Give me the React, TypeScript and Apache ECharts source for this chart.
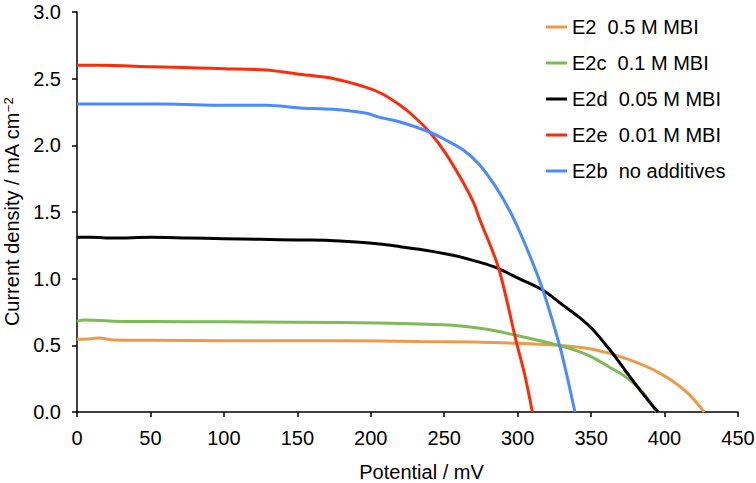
import React, { useEffect, useRef } from "react";
import * as echarts from "echarts";

const xTicks = { min: 0, max: 450, interval: 50 };
const yTicks = { min: 0, max: 3, interval: 0.5 };

const seriesNames = [
  "E2  0.5 M MBI",
  "E2c  0.1 M MBI",
  "E2d  0.05 M MBI",
  "E2e  0.01 M MBI",
  "E2b  no additives",
];

// E2 (0.5 M MBI)
const e2X = [0, 10, 15, 25, 50, 100, 150, 206, 233, 270, 301, 328, 351, 374, 397, 415, 427];
const e2Y = [0.545, 0.55, 0.555, 0.54, 0.538, 0.535, 0.535, 0.533, 0.528, 0.525, 0.515, 0.5, 0.47, 0.4, 0.29, 0.15, 0];

// E2c (0.1 M MBI)
const e2cX = [0, 5, 20, 25, 50, 100, 150, 206, 233, 256, 279, 301, 328, 340, 351, 362, 374, 385, 394.5];
const e2cY = [0.68, 0.69, 0.685, 0.68, 0.678, 0.676, 0.674, 0.667, 0.66, 0.65, 0.62, 0.57, 0.5, 0.46, 0.41, 0.34, 0.26, 0.15, 0];

// E2d (0.05 M MBI)
const e2dX = [0, 10, 25, 50, 75, 100, 125, 150, 172, 190, 206, 220, 233, 256, 275, 287, 301, 317, 331, 342, 351, 365, 374, 385, 395.5];
const e2dY = [1.31, 1.31, 1.305, 1.31, 1.305, 1.3, 1.295, 1.29, 1.287, 1.275, 1.26, 1.24, 1.22, 1.175, 1.12, 1.075, 1.0, 0.915, 0.8, 0.71, 0.62, 0.435, 0.3, 0.14, 0];

// E2e (0.01 M MBI)
const e2eX = [0, 15, 50, 83, 100, 129, 150, 175, 197, 208, 220, 229, 240, 251, 263, 270, 274, 287, 299, 305, 310];
const e2eY = [2.6, 2.6, 2.59, 2.58, 2.575, 2.565, 2.535, 2.5, 2.435, 2.385, 2.3, 2.22, 2.1, 1.94, 1.72, 1.57, 1.45, 1.08, 0.53, 0.27, 0];

// E2b (no additives)
const e2bX = [0, 15, 60, 100, 129, 152, 174, 197, 206, 220, 240, 251, 263, 274, 285, 295, 305, 317, 329, 334, 339];
const e2bY = [2.31, 2.31, 2.31, 2.3, 2.3, 2.28, 2.27, 2.24, 2.21, 2.175, 2.1, 2.04, 1.965, 1.855, 1.69, 1.5, 1.26, 0.92, 0.48, 0.25, 0];

const colors = ["#EE9A4D", "#7DBB55", "#000000", "#FF2A0A", "#4A8BFF"];

const FONT = "'Liberation Sans', Arial, sans-serif";

function pairs(xs: number[], ys: number[]) {
  return xs.map((x, i) => [x, ys[i]]);
}

export default function App() {
  const ref = useRef<HTMLDivElement>(null);
  useEffect(() => {
    document.body.style.margin = "0";
    if (!ref.current) return;
    const chart = echarts.init(ref.current, undefined, { renderer: "svg" });
    const datasets = [
      pairs(e2X, e2Y),
      pairs(e2cX, e2cY),
      pairs(e2dX, e2dY),
      pairs(e2eX, e2eY),
      pairs(e2bX, e2bY),
    ];
    chart.setOption({
      animation: false,
      backgroundColor: "#ffffff",
      textStyle: { fontFamily: FONT },
      grid: { left: 77, right: 18, top: 12, bottom: 71, containLabel: false, outerBoundsMode: "none" },
      legend: {
        orient: "vertical",
        left: 546,
        top: 17,
        padding: 0,
        itemGap: 16,
        itemWidth: 21,
        itemHeight: 3,
        icon: "rect",
        data: seriesNames,
        textStyle: { fontSize: 20, color: "#000", fontFamily: FONT, lineHeight: 20 },
      },
      xAxis: {
        type: "value",
        min: xTicks.min,
        max: xTicks.max,
        interval: xTicks.interval,
        name: "Potential / mV",
        nameLocation: "middle",
        nameGap: 50,
        nameTextStyle: { fontSize: 20, color: "#000", fontFamily: FONT, padding: [0, 0, 0, 28] },
        axisLine: { lineStyle: { color: "#000", width: 1.5 } },
        axisTick: { show: true, inside: false, length: 5, lineStyle: { color: "#000", width: 1.5 } },
        axisLabel: { fontSize: 20, color: "#000", margin: 16, fontFamily: FONT },
        splitLine: { show: false },
      },
      yAxis: {
        type: "value",
        min: yTicks.min,
        max: yTicks.max,
        interval: yTicks.interval,
        name: "Current density / mA cm{sup|−2}",
        nameLocation: "middle",
        nameGap: 53,
        nameTextStyle: {
          fontSize: 20,
          lineHeight: 20,
          color: "#000",
          fontFamily: FONT,
          rich: {
            sup: { fontSize: 13, lineHeight: 13, color: "#000", fontFamily: FONT, padding: [0, 0, 7, 0] },
          },
        },
        axisLine: { show: true, lineStyle: { color: "#000", width: 1.5 } },
        axisTick: { show: true, inside: false, length: 5, lineStyle: { color: "#000", width: 1.5 } },
        axisLabel: {
          fontSize: 20,
          lineHeight: 16,
          color: "#000",
          margin: 16,
          fontFamily: FONT,
          formatter: (v: number) => v.toFixed(1),
        },
        splitLine: { show: false },
      },
      series: seriesNames.map((name, i) => ({
        name,
        type: "line",
        data: datasets[i],
        showSymbol: false,
        symbol: "none",
        smooth: 0.3,
        color: colors[i],
        lineStyle: { color: colors[i], width: 3 },
      })),
    });
    return () => chart.dispose();
  }, []);
  return <div ref={ref} style={{ width: 756, height: 483 }} />;
}
